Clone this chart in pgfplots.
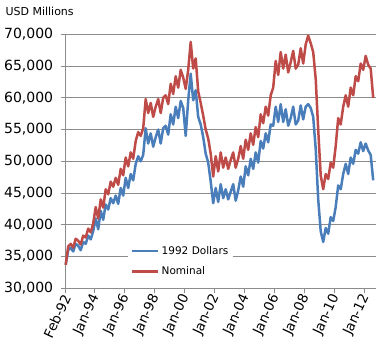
\documentclass[border=0pt]{standalone}
\usepackage{fontspec}
\setmainfont{DejaVu Sans}
\usepackage{pgfplots}
\usepackage{pgfplotstable}
\pgfplotsset{compat=1.18}
\definecolor{realblue}{HTML}{4A7EBB}
\definecolor{nomred}{HTML}{BE4B48}
\definecolor{gridgray}{HTML}{8C8C8C}

% month index (0 = Feb-92), 1992 dollars, nominal (USD millions)
\pgfplotstableread{
m real nominal
0 33700 33700
2 36000 36600
4 36400 37000
6 35800 36400
8 37000 37800
10 36700 37500
12 36000 36900
14 37300 38300
16 37000 38000
18 38300 39400
20 37700 38800
22 39000 40200
24 41000 42800
26 39300 41000
28 42200 44000
30 40800 42700
32 43200 45600
34 42400 44800
36 44200 46800
38 43400 46000
40 44600 47400
42 43300 46300
44 45800 48800
46 44600 47800
48 47400 50600
50 45800 49200
52 48000 51400
54 47000 50400
56 49600 53200
58 50800 54600
60 50000 54000
62 51000 55200
64 55200 59800
66 52800 57600
68 54400 59200
70 52300 57000
72 53800 58600
74 55000 59800
76 52800 57600
78 55200 60000
80 55600 60400
82 54200 59000
84 57400 62200
86 55800 60600
88 58600 63400
90 56800 61600
92 59500 64400
94 58400 63200
96 54000 61400
98 59600 64400
100 63800 68800
102 59600 64600
104 61200 66200
106 57000 61000
108 55800 59200
110 53800 57200
112 51200 55000
114 49800 53600
116 46800 51200
118 43400 47600
120 45800 50800
122 43600 48400
124 46400 51400
126 44200 49000
128 45600 50600
130 44000 48800
132 45200 50200
134 46400 51400
136 43800 49000
138 45400 50400
140 47600 52400
142 46000 50400
144 49200 53400
146 47800 51800
148 50400 54400
150 48800 52600
152 51400 55400
154 49800 53800
156 53200 57400
158 52000 56000
160 54400 58600
162 53000 57200
164 55800 60400
166 55600 61600
168 58600 65800
170 56200 63600
172 59000 67200
174 56200 64600
176 58200 66800
178 55600 64000
180 56800 65600
182 58600 67400
184 55800 64600
186 56400 65200
188 58800 67800
190 56600 65400
192 58600 68400
194 59000 69800
196 58400 68600
198 57000 67200
200 52000 63000
202 44000 55000
204 39000 47800
206 37300 45600
208 39500 48000
210 38600 47200
212 41200 49800
214 40600 49000
216 42800 52400
218 46200 56800
220 45600 55800
222 48000 58600
224 49600 60400
226 48000 58600
228 50600 61600
230 49600 60400
232 51800 63400
234 51200 62600
236 53000 65400
238 51600 64400
240 52800 66600
242 51700 65200
244 51000 64600
246 47000 60000
}\datatable

\begin{document}
\begin{tikzpicture}
\path[use as bounding box] (0,0) rectangle (382pt,360pt);
\begin{axis}[
  at={(65.7pt,71.7pt)}, anchor=south west,
  scale only axis, width=310pt, height=254pt,
  xmin=0, xmax=248, ymin=30000, ymax=70000,
  clip=false,
  axis x line=bottom, axis y line=left,
  axis line style={-, draw=gridgray, line width=1pt},
  ytick={30000,35000,...,70000},
  xtick={0,23,47,71,95,119,143,167,191,215,239},
  xticklabels={Feb-92,Jan-94,Jan-96,Jan-98,Jan-00,Jan-02,Jan-04,Jan-06,Jan-08,Jan-10,Jan-12},
  tick align=outside, major tick length=5pt,
  tick style={draw=gridgray, line width=1pt},
  ymajorgrids, grid style={draw=gridgray, line width=1pt},
  scaled y ticks=false,
  /pgf/number format/.cd, 1000 sep={,}, assume math mode=true, /pgfplots/.cd,
  yticklabel style={font=\fontsize{14}{16}\selectfont, xshift=-4pt},
  xticklabel style={font=\fontsize{13.5}{16}\selectfont, rotate=65, anchor=east, xshift=2pt, yshift=-2pt},
  legend style={at={(rel axis cs:0.201,0.19)}, anchor=north west, draw=none, fill=white,
    font=\fontsize{10.5}{12}\selectfont, row sep=7pt, inner xsep=3pt, inner ysep=4pt},
  legend cell align=left,
  legend image code/.code={\draw[#1] (0pt,0pt) -- (26pt,0pt);},
]
\addplot[color=realblue, line width=2.5pt, line join=round] table[x=m, y=real] {\datatable};
\addlegendentry{1992 Dollars}
\addplot[color=nomred, line width=2.5pt, line join=round] table[x=m, y=nominal] {\datatable};
\addlegendentry{Nominal}
\end{axis}
\node[anchor=west, font=\fontsize{11}{13}\selectfont] at (2pt,349pt) {USD Millions};
\end{tikzpicture}
\end{document}
